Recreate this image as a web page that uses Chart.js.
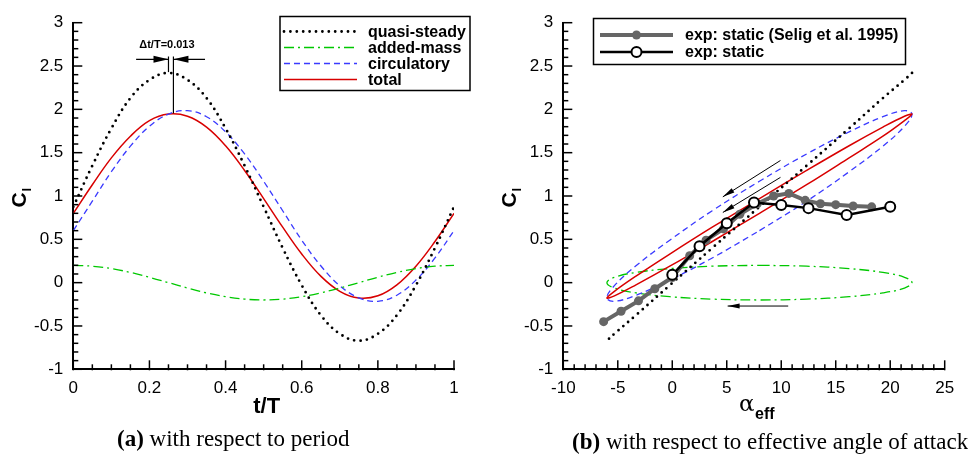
<!DOCTYPE html>
<html>
<head>
<meta charset="utf-8">
<script src="https://cdn.jsdelivr.net/npm/chart.js@4"></script>
<style>
body { margin: 0; background: #fff; }
#wrap { position: relative; width: 968px; height: 455px; overflow: hidden; }
canvas { position: absolute; top: 0; }
.cap { position: absolute; font-family: "Liberation Serif", "DejaVu Serif", serif; font-size: 23px; white-space: nowrap; color: #000; }
</style>
</head>
<body>
<div id="wrap">
  <canvas id="left" width="484" height="430" style="left:0"></canvas>
  <canvas id="right" width="484" height="430" style="left:484px"></canvas>
  <div class="cap" style="left:117px;top:426px"><b>(a)</b> with respect to period</div>
  <div class="cap" style="left:572px;top:429px"><b>(b)</b> with respect to effective angle of attack</div>
</div>
<script>
// t/T samples
const period = [0, 0.05, 0.1, 0.15, 0.2, 0.25, 0.3, 0.35, 0.4, 0.45, 0.5, 0.55, 0.6, 0.65, 0.7, 0.75, 0.8, 0.85, 0.9, 0.95, 1];
const quasiSteady = [0.875, 1.35, 1.78, 2.13, 2.34, 2.42, 2.34, 2.13, 1.78, 1.35, 0.875, 0.40, -0.03, -0.375, -0.59, -0.67, -0.59, -0.375, -0.03, 0.40, 0.875];
const addedMass = [0.2, 0.19, 0.162, 0.118, 0.062, 0, -0.062, -0.118, -0.162, -0.19, -0.2, -0.19, -0.162, -0.118, -0.062, 0, 0.062, 0.118, 0.162, 0.19, 0.2];
const circulatory = [0.60, 0.94, 1.28, 1.575, 1.805, 1.945, 1.985, 1.915, 1.74, 1.485, 1.17, 0.83, 0.49, 0.195, -0.035, -0.175, -0.215, -0.145, 0.03, 0.285, 0.60];
const total = [0.80, 1.13, 1.44, 1.69, 1.87, 1.945, 1.92, 1.795, 1.58, 1.295, 0.97, 0.64, 0.33, 0.075, -0.10, -0.178, -0.152, -0.025, 0.19, 0.475, 0.80];
// effective angle of attack at the same instants (panel b)
const alphaEff = [8, 12.33, 16.23, 19.33, 21.31, 22, 21.31, 19.33, 16.23, 12.33, 8, 3.67, -0.23, -3.33, -5.31, -6, -5.31, -3.33, -0.23, 3.67, 8];

const seligAlpha = [-6.3, -4.7, -3.1, -1.6, 0.0, 1.6, 3.1, 4.7, 6.2, 7.8, 9.3, 10.7, 12.2, 13.6, 15.0, 16.6, 18.3];
const seligCl = [-0.45, -0.33, -0.21, -0.07, 0.06, 0.31, 0.49, 0.62, 0.79, 0.91, 1.00, 1.03, 0.95, 0.91, 0.90, 0.885, 0.875];
const staticAlpha = [0, 2.5, 5, 7.5, 10, 12.5, 16, 20];
const staticCl = [0.09, 0.42, 0.685, 0.925, 0.895, 0.86, 0.78, 0.875];

const clTicks = [-1, -0.5, 0, 0.5, 1, 1.5, 2, 2.5, 3];
const periodTicks = [0, 0.2, 0.4, 0.6, 0.8, 1];
const alphaTicks = [-10, -5, 0, 5, 10, 15, 20, 25];

Chart.defaults.font.family = '"Liberation Sans", Arial, sans-serif';
Chart.defaults.font.size = 17;
Chart.defaults.color = '#000';

const sQuasi = { borderColor: '#000', borderWidth: 2.8, borderDash: [0, 6.4], borderCapStyle: 'round' };
const sAdded = { borderColor: '#00c800', borderWidth: 1.3, borderDash: [10, 4, 2, 4] };
const sCirc = { borderColor: '#3a3aff', borderWidth: 1.3, borderDash: [6, 4] };
const sTotal = { borderColor: '#d80000', borderWidth: 1.5, borderDash: [] };

function pairs(xs, ys) { return xs.map((x, i) => ({ x: x, y: ys[i] })); }

function curve(label, xs, ys, st) {
  return Object.assign({ label: label, data: pairs(xs, ys), showLine: true, pointRadius: 0, tension: 0.4, fill: false }, st);
}

function setTicks(list) {
  return function (scale) { scale.ticks = list.map(v => ({ value: v })); };
}

function arrow(ctx, x1, y1, x2, y2, head, half) {
  ctx.beginPath(); ctx.moveTo(x1, y1); ctx.lineTo(x2, y2); ctx.stroke();
  const a = Math.atan2(y2 - y1, x2 - x1);
  const bx = x2 - head * Math.cos(a), by = y2 - head * Math.sin(a);
  ctx.beginPath();
  ctx.moveTo(x2, y2);
  ctx.lineTo(bx + half * Math.sin(a), by - half * Math.cos(a));
  ctx.lineTo(bx - half * Math.sin(a), by + half * Math.cos(a));
  ctx.closePath(); ctx.fill();
}

// inward major/minor ticks on the left and bottom axes
function drawInTicks(chart, xMinor, yMinor) {
  const ctx = chart.ctx, a = chart.chartArea;
  const xs = chart.scales.x, ys = chart.scales.y;
  ctx.save();
  ctx.setLineDash([]);
  ctx.lineCap = 'butt';
  ctx.strokeStyle = '#000'; ctx.lineWidth = 1.5;
  let n = Math.round((xs.max - xs.min) / xMinor);
  for (let i = 0; i <= n; i++) {
    const v = xs.min + i * xMinor;
    const major = xs.ticks.some(t => Math.abs(t.value - v) < 1e-6);
    const p = xs.getPixelForValue(v);
    ctx.beginPath(); ctx.moveTo(p, a.bottom + 1); ctx.lineTo(p, a.bottom - (major ? 9 : 5)); ctx.stroke();
  }
  n = Math.round((ys.max - ys.min) / yMinor);
  for (let i = 0; i <= n; i++) {
    const v = ys.min + i * yMinor;
    const major = ys.ticks.some(t => Math.abs(t.value - v) < 1e-6);
    const p = ys.getPixelForValue(v);
    ctx.beginPath(); ctx.moveTo(a.left - 1, p); ctx.lineTo(a.left + (major ? 9 : 5), p); ctx.stroke();
  }
  ctx.restore();
}

function drawClTitle(ctx, x, y) {
  ctx.save();
  ctx.translate(x, y); ctx.rotate(-Math.PI / 2);
  ctx.fillStyle = '#000'; ctx.textBaseline = 'alphabetic'; ctx.textAlign = 'left';
  ctx.font = 'bold 21px "Liberation Sans", Arial, sans-serif';
  const w = ctx.measureText('C').width;
  ctx.fillText('C', -w / 2 - 3, 8);
  ctx.font = 'bold 13px "Liberation Sans", Arial, sans-serif';
  ctx.fillText('l', w / 2 - 2, 13);
  ctx.restore();
}

function legendLine(ctx, x1, x2, y, st) {
  ctx.save();
  ctx.strokeStyle = st.borderColor; ctx.lineWidth = st.borderWidth;
  ctx.setLineDash(st.borderDash || []); ctx.lineCap = st.borderCapStyle || 'butt';
  ctx.beginPath(); ctx.moveTo(x1, y); ctx.lineTo(x2, y); ctx.stroke();
  ctx.restore();
}

const leftDecor = {
  id: 'leftDecor',
  afterDraw(chart) {
    const ctx = chart.ctx, xs = chart.scales.x, ys = chart.scales.y;
    drawInTicks(chart, 0.05, 0.1);
    ctx.save();
    ctx.setLineDash([]);
    ctx.fillStyle = '#000'; ctx.strokeStyle = '#000';
    // axis titles
    ctx.font = 'bold 22px "Liberation Sans", Arial, sans-serif';
    ctx.textAlign = 'center'; ctx.textBaseline = 'middle';
    ctx.fillText('t/T', (chart.chartArea.left + chart.chartArea.right) / 2 + 3, 407);
    drawClTitle(ctx, 18, 197);
    // phase-lag annotation
    const xa = xs.getPixelForValue(0.25), xb = xs.getPixelForValue(0.263);
    ctx.lineWidth = 1.2;
    ctx.beginPath(); ctx.moveTo(xa, ys.getPixelForValue(2.61)); ctx.lineTo(xa, ys.getPixelForValue(2.43)); ctx.stroke();
    ctx.beginPath(); ctx.moveTo(xb, ys.getPixelForValue(2.61)); ctx.lineTo(xb, ys.getPixelForValue(1.955)); ctx.stroke();
    const ya = ys.getPixelForValue(2.577);
    arrow(ctx, xs.getPixelForValue(0.165), ya, xa, ya, 15, 3.5);
    arrow(ctx, xs.getPixelForValue(0.346), ya, xb, ya, 15, 3.5);
    ctx.font = 'bold 11px "Liberation Sans", Arial, sans-serif';
    ctx.fillText('\u0394t/T=0.013', xs.getPixelForValue(0.246), ys.getPixelForValue(2.74));
    // legend
    ctx.lineWidth = 1.5;
    ctx.strokeRect(280, 16.5, 190, 74);
    const rows = [['quasi-steady', sQuasi], ['added-mass', sAdded], ['circulatory', sCirc], ['total', sTotal]];
    ctx.font = 'bold 16px "Liberation Sans", Arial, sans-serif';
    ctx.textAlign = 'left';
    rows.forEach((r, i) => {
      const y = 31.5 + i * 16;
      legendLine(ctx, 284, 357, y, r[1]);
      ctx.fillText(r[0], 368, y + 1);
    });
    ctx.restore();
  }
};

const rightDecor = {
  id: 'rightDecor',
  afterDraw(chart) {
    const ctx = chart.ctx, xs = chart.scales.x, ys = chart.scales.y;
    drawInTicks(chart, 1, 0.1);
    ctx.save();
    ctx.setLineDash([]);
    ctx.fillStyle = '#000'; ctx.strokeStyle = '#000';
    // axis titles
    ctx.textBaseline = 'alphabetic'; ctx.textAlign = 'left';
    ctx.font = '23px "DejaVu Serif", "Liberation Serif", serif';
    ctx.fillText('\u03b1', 255, 411);
    ctx.font = 'bold 16px "Liberation Sans", Arial, sans-serif';
    ctx.fillText('eff', 271, 419);
    drawClTitle(ctx, 24, 197);
    // direction arrows
    ctx.lineWidth = 1;
    arrow(ctx, xs.getPixelForValue(9.93), ys.getPixelForValue(1.41), xs.getPixelForValue(4.64), ys.getPixelForValue(0.99), 12, 2.5);
    arrow(ctx, xs.getPixelForValue(9.93), ys.getPixelForValue(1.215), xs.getPixelForValue(4.64), ys.getPixelForValue(0.81), 12, 2.5);
    arrow(ctx, xs.getPixelForValue(10.64), ys.getPixelForValue(-0.27), xs.getPixelForValue(5.08), ys.getPixelForValue(-0.27), 12, 2.5);
    // legend
    ctx.lineWidth = 1.5;
    ctx.strokeRect(109.5, 18.5, 312, 46);
    legendLine(ctx, 116, 189, 35, { borderColor: '#666', borderWidth: 4 });
    ctx.fillStyle = '#666';
    ctx.beginPath(); ctx.arc(152.5, 35, 4.5, 0, Math.PI * 2); ctx.fill();
    legendLine(ctx, 116, 189, 52, { borderColor: '#000', borderWidth: 2.5 });
    ctx.fillStyle = '#fff'; ctx.lineWidth = 2;
    ctx.beginPath(); ctx.arc(152.5, 52, 5, 0, Math.PI * 2); ctx.fill(); ctx.stroke();
    ctx.fillStyle = '#000';
    ctx.font = 'bold 16px "Liberation Sans", Arial, sans-serif';
    ctx.textBaseline = 'middle';
    ctx.fillText('exp: static (Selig et al. 1995)', 201, 36);
    ctx.fillText('exp: static', 201, 52.5);
    ctx.restore();
  }
};

function axes(xmin, xmax, xTicks, yWidth) {
  return {
    x: {
      type: 'linear', min: xmin, max: xmax,
      afterBuildTicks: setTicks(xTicks),
      afterFit: s => { s.height = 430 - 369.3; },
      grid: { display: false, drawTicks: false },
      border: { display: true, color: '#000', width: 2 },
      ticks: { padding: 9, maxRotation: 0, autoSkip: false, callback: v => String(v) }
    },
    y: {
      type: 'linear', min: -1, max: 3,
      afterBuildTicks: setTicks(clTicks),
      afterFit: s => { s.width = yWidth; },
      grid: { display: false, drawTicks: false },
      border: { display: true, color: '#000', width: 2 },
      ticks: { padding: 10, autoSkip: false, callback: v => String(v) }
    }
  };
}

new Chart(document.getElementById('left'), {
  type: 'line',
  data: {
    datasets: [
      curve('quasi-steady', period, quasiSteady, sQuasi),
      curve('added-mass', period, addedMass, sAdded),
      curve('circulatory', period, circulatory, sCirc),
      curve('total', period, total, sTotal)
    ]
  },
  options: {
    responsive: false, animation: false,
    layout: { padding: { left: 0, top: 22.7, right: 484 - 454, bottom: 0 } },
    plugins: { legend: { display: false }, tooltip: { enabled: false } },
    scales: axes(0, 1, periodTicks, 73.3)
  },
  plugins: [leftDecor]
});

new Chart(document.getElementById('right'), {
  type: 'scatter',
  data: {
    datasets: [
      {
        label: 'exp: static', data: pairs(staticAlpha, staticCl), showLine: true,
        borderColor: '#000', borderWidth: 2.5, pointRadius: 5, pointBorderWidth: 2,
        pointBackgroundColor: '#fff', pointBorderColor: '#000'
      },
      {
        label: 'exp: static (Selig et al. 1995)', data: pairs(seligAlpha, seligCl), showLine: true,
        borderColor: '#666', borderWidth: 4, pointRadius: 4.5, pointBorderWidth: 0,
        pointBackgroundColor: '#666'
      },
      curve('quasi-steady', alphaEff.slice(5, 16), quasiSteady.slice(5, 16), sQuasi),
      curve('total', alphaEff, total, sTotal),
      curve('circulatory', alphaEff, circulatory, sCirc),
      curve('added-mass', alphaEff, addedMass, sAdded)
    ]
  },
  options: {
    responsive: false, animation: false,
    layout: { padding: { left: 0, top: 22.7, right: 484 - 460.7, bottom: 0 } },
    plugins: { legend: { display: false }, tooltip: { enabled: false } },
    scales: axes(-10, 25, alphaTicks, 79.3)
  },
  plugins: [rightDecor]
});
</script>
</body>
</html>
